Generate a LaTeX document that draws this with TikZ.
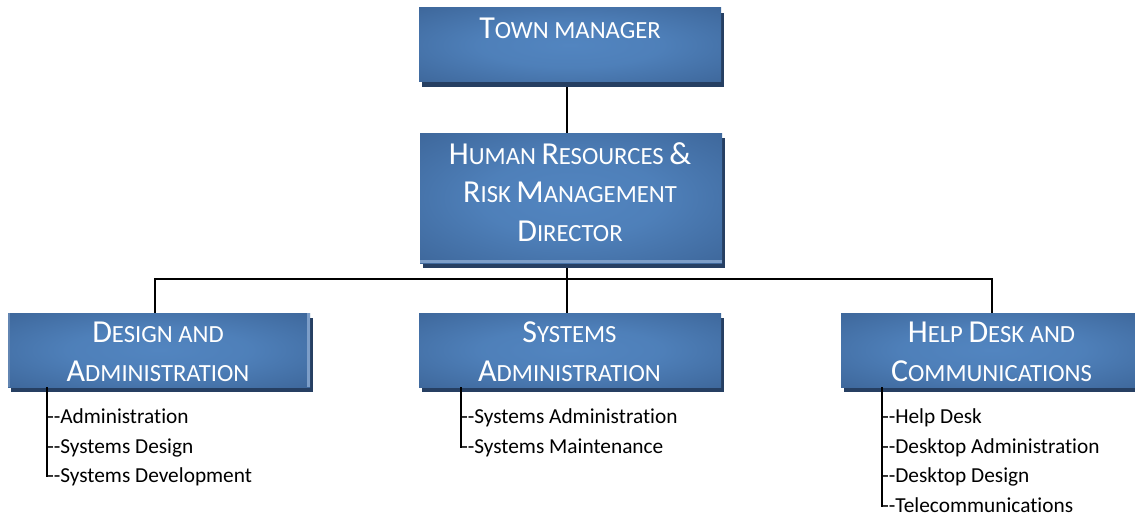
\documentclass[tikz,border=0pt]{standalone}
\usepackage{fontspec}
\setmainfont{Carlito}[Ligatures={TeX,NoCommon}]
\usetikzlibrary{shadows,calc,backgrounds}
\definecolor{boxedge}{RGB}{57,96,146}
\definecolor{boxmid}{RGB}{82,133,192}
\definecolor{boxshadow}{RGB}{38,63,98}
\definecolor{boxlight}{RGB}{125,158,200}
\pgfdeclareradialshading{boxshade}{\pgfpoint{0bp}{0bp}}{color(0bp)=(boxmid); color(15bp)=(boxmid!85!boxedge); color(42bp)=(boxedge); color(80bp)=(boxedge)}
\newcommand{\Cap}[1]{{\fontsize{24}{29}\selectfont #1}}
\begin{document}
\begin{tikzpicture}[x=0.75pt,y=-0.75pt,
  orgbox/.style={shading=boxshade, inner sep=0, minimum width=226.5pt,
    drop shadow={fill=boxshadow, opacity=1, shadow xshift=2.25pt, shadow yshift=-3.75pt}},
  boxtext/.style={text=white, align=center, inner sep=0, font=\fontsize{18.5}{29}\selectfont},
  item/.style={anchor=base west, inner sep=0, font=\fontsize{16}{20}\selectfont},
  conn/.style={line width=1.5pt, black},
  treeline/.style={line width=1.5pt, black}]
\path[use as bounding box, clip] (0,0) rectangle (1135,517);

% boxes
\node[orgbox, minimum height=55.5pt] (town) at (570,45) {};
\node[orgbox, minimum height=97.5pt] (hr) at (571,198) {};
\node[orgbox, minimum height=55.5pt] (design) at (159,350) {};
\node[orgbox, minimum height=55.5pt] (sys) at (570,350) {};
\node[orgbox, minimum height=55.5pt] (help) at (992,350) {};

% edge highlights
\fill[boxlight] (hr.south west) rectangle ([yshift=2.25pt]hr.south east);
\fill[boxlight] ([xshift=-2.25pt]design.north east) rectangle (design.south east);
\fill[boxlight!60!boxedge] (design.north west) rectangle ([xshift=1.5pt]design.south west);

% labels
\node[boxtext] (townlbl) at (570,28.7) {\Cap{T}OWN MANAGER};
\node[boxtext] (hrlbl) at (570,192) {\Cap{H}UMAN \Cap{R}ESOURCES \Cap{\&}\\\Cap{R}ISK \Cap{M}ANAGEMENT\\\Cap{D}IRECTOR};
\node[boxtext] (designlbl) at (158,352) {\Cap{D}ESIGN AND\\\Cap{A}DMINISTRATION};
\node[boxtext] (syslbl) at (569.5,352) {\Cap{S}YSTEMS\\\Cap{A}DMINISTRATION};
\node[boxtext] (helplbl) at (991.5,352) {\Cap{H}ELP \Cap{D}ESK AND\\\Cap{C}OMMUNICATIONS};

% list items
\node[item] (d1) at (47,423) {-{}-Administration};
\node[item] (d2) at (47,453) {-{}-Systems Design};
\node[item] (d3) at (47,482) {-{}-Systems Development};
\node[item] (s1) at (461,423) {-{}-Systems Administration};
\node[item] (s2) at (461,453) {-{}-Systems Maintenance};
\node[item] (h1) at (882,423) {-{}-Help Desk};
\node[item] (h2) at (882,453) {-{}-Desktop Administration};
\node[item] (h3) at (882,482) {-{}-Desktop Design};
\node[item] (h4) at (882,512) {-{}-Telecommunications};

\coordinate (bus) at (567,279);

\begin{scope}[on background layer]
\fill[white] (0,0) rectangle (1135,517);
\draw[conn] (bus |- town.south) -- (bus |- hr.north);
\draw[conn] (bus |- hr.south) -- (bus |- sys.north);
\draw[conn] ([xshift=-3pt]design.north) |- (bus) -| (help.north);
\end{scope}

% tree lines
\draw[treeline] (d1.base west |- design.south) -- ($(d3.base west)+(0,-5)$);
\draw[treeline] (s1.base west |- sys.south) -- ($(s2.base west)+(0,-5)$);
\draw[treeline] (h1.base west |- help.south) -- ($(h4.base west)+(0,-5)$);
\end{tikzpicture}
\end{document}
